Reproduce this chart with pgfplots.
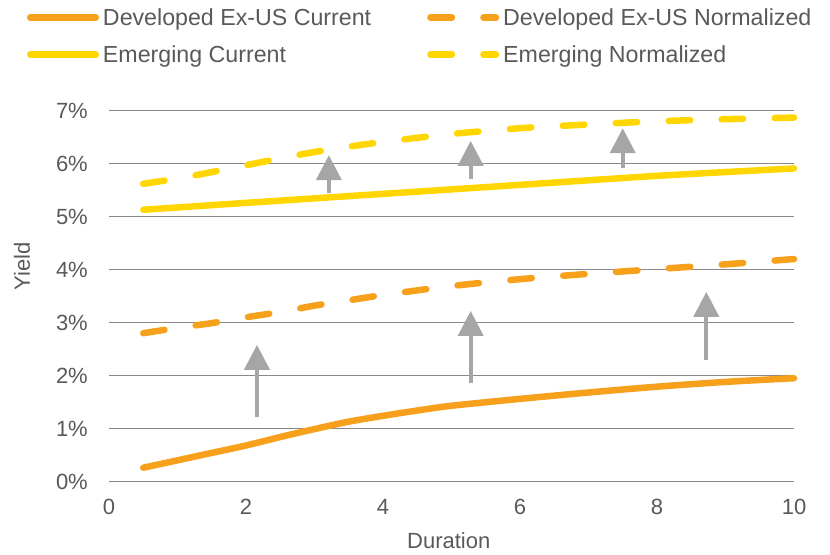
\documentclass[border=0pt]{standalone}
\usepackage{pgfplots}
\pgfplotsset{compat=1.18}
\usepackage{fontspec}
\setmainfont{Liberation Sans}
\usetikzlibrary{arrows.meta}
\definecolor{devorange}{RGB}{247,160,28}
\definecolor{emyellow}{RGB}{255,214,0}
\definecolor{txtgray}{RGB}{89,89,89}
\definecolor{gridgray}{RGB}{137,137,137}
\definecolor{arrowgray}{RGB}{166,166,166}
\pgfplotsset{
  solidleg/.style={legend image code/.code={\path[draw=none,fill=none] (0bp,-3.25bp) rectangle (72bp,3.25bp); \draw[##1] (3.25bp,0bp) -- (68.75bp,0bp);}},
  dashleg/.style={legend image code/.code={\path[draw=none,fill=none] (0bp,-3.25bp) rectangle (72bp,3.25bp); \draw[##1] (3.25bp,0bp) -- (68.75bp,0bp);}},
}
\begin{document}
\begin{tikzpicture}
\begin{axis}[
  at={(0,0)}, anchor=south west,
  scale only axis, width=685bp, height=370.8bp,
  xmin=0, xmax=10, ymin=0, ymax=7,
  axis line style={draw=none},
  major tick length=0pt,
  xtick={0,2,4,6,8,10}, xticklabels={0,2,4,6,8,10},
  ytick={0,1,2,3,4,5,6,7},
  yticklabels={0\%,1\%,2\%,3\%,4\%,5\%,6\%,7\%},
  ymajorgrids, major grid style={gridgray, line width=1.3bp},
  tick label style={font=\fontsize{22bp}{26bp}\selectfont, text=txtgray, inner sep=0pt},
  xticklabel style={anchor=north, yshift=-17.5bp},
  yticklabel style={anchor=east, xshift=-21bp},
  xlabel={Duration}, ylabel={Yield},
  label style={font=\fontsize{22bp}{26bp}\selectfont, text=txtgray},
  xlabel style={at={(axis description cs:0.496,-0.16)}, anchor=center},
  ylabel style={at={(axis description cs:-0.127,0.581)}, anchor=center},
  legend columns=2, legend cell align=left,
  legend style={draw=none, fill=none, inner sep=0pt, outer sep=0pt,
    at={(axis description cs:-0.1197,1.2735)}, anchor=north west,
    font=\fontsize{23.2bp}{27bp}\selectfont, text=txtgray,
    nodes={inner sep=0pt, text height=16.6bp, text depth=0pt},
    row sep=20.4bp,
    /tikz/every odd column/.append style={column sep=4bp},
    /tikz/every even column/.append style={column sep=56bp}},
  clip=false,
]
\addplot[devorange, line width=6.5bp, line cap=round, smooth, solidleg]
  coordinates {(0.5,0.26) (1,0.40) (1.5,0.54) (2,0.68) (2.5,0.84) (3,0.99) (3.5,1.13) (4,1.24) (4.5,1.34) (5,1.43) (6,1.56) (7,1.68) (8,1.79) (9,1.88) (10,1.95)};
\addlegendentry{Developed Ex-US Current}
\addplot[devorange, line width=6.5bp, line cap=round, smooth, dash pattern=on 21.5bp off 31.5bp, dashleg]
  coordinates {(0.5,2.80) (1,2.90) (1.5,2.99) (2,3.10) (2.5,3.20) (3,3.32) (3.5,3.42) (4,3.52) (5,3.69) (6,3.82) (7,3.92) (8,4.01) (9,4.10) (10,4.20)};
\addlegendentry{Developed Ex-US Normalized}
\addplot[emyellow, line width=6.5bp, line cap=round, smooth, solidleg]
  coordinates {(0.5,5.13) (2,5.26) (4,5.43) (6,5.60) (8,5.77) (10,5.91)};
\addlegendentry{Emerging Current}
\addplot[emyellow, line width=6.5bp, line cap=round, smooth, dash pattern=on 21.5bp off 31.5bp, dashleg]
  coordinates {(0.5,5.62) (1,5.72) (1.5,5.84) (2,5.97) (2.5,6.10) (3,6.22) (3.5,6.32) (4,6.41) (5,6.56) (6,6.67) (7,6.74) (8,6.80) (9,6.84) (10,6.87)};
\addlegendentry{Emerging Normalized}
\addplot[forget plot, arrowgray, line width=4bp, -{Triangle[width=25bp,length=25bp]}] coordinates {(2.16,1.22) (2.16,2.58)};
\addplot[forget plot, arrowgray, line width=4bp, -{Triangle[width=25bp,length=25bp]}] coordinates {(5.28,1.86) (5.28,3.22)};
\addplot[forget plot, arrowgray, line width=4bp, -{Triangle[width=25bp,length=25bp]}] coordinates {(8.72,2.29) (8.72,3.58)};
\addplot[forget plot, arrowgray, line width=4bp, -{Triangle[width=25bp,length=25bp]}] coordinates {(3.21,5.44) (3.21,6.16)};
\addplot[forget plot, arrowgray, line width=4bp, -{Triangle[width=25bp,length=25bp]}] coordinates {(5.28,5.71) (5.28,6.43)};
\addplot[forget plot, arrowgray, line width=4bp, -{Triangle[width=25bp,length=25bp]}] coordinates {(7.50,5.92) (7.50,6.67)};
\end{axis}
\pgfresetboundingbox
\path[use as bounding box] (-109bp,-73.5bp) rectangle (721bp,481.5bp);
\end{tikzpicture}
\end{document}
